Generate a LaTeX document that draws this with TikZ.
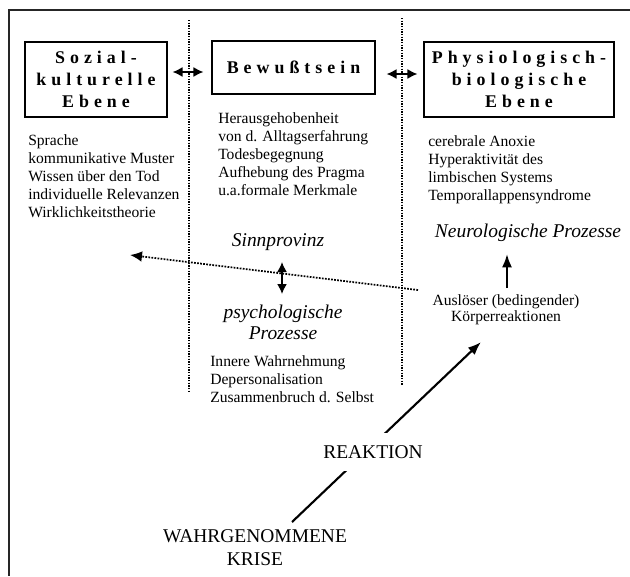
\documentclass[tikz,border=0pt]{standalone}
\usepackage{fontspec}
\setmainfont{Liberation Serif}
\newfontfamily\spacedfont[LetterSpace=28]{Liberation Serif}
\usetikzlibrary{arrows.meta,calc}
\begin{document}
\begin{tikzpicture}[x=0.75pt,y=-0.75pt,
  levelbox/.style={draw, line width=0.8pt, align=center, inner sep=0pt,
    font=\spacedfont\bfseries\fontsize{13.4}{16.3}\selectfont},
  body/.style={align=left, inner sep=0pt, anchor=base west,
    font=\fontsize{11.7}{13.5}\selectfont},
  ital/.style={inner sep=0pt, align=center, font=\itshape\fontsize{14.6}{15.8}\selectfont},
  caps/.style={inner sep=0pt, align=center, font=\fontsize{14.6}{17.2}\selectfont},
  frame/.style={line width=1.1pt, draw=black!85},
  sep/.style={densely dotted, line width=1pt},
  dblarrow/.style={{Latex[length=7.5pt,width=7.5pt]}-{Latex[length=7.5pt,width=7.5pt]}, line width=1.2pt},
  dotarrow/.style={densely dotted, line width=1.3pt, -{Latex[length=9pt,width=8pt]}},
  bigarrow/.style={line width=1.6pt, -{Latex[length=10pt,width=7.5pt]}}
]
\useasboundingbox (0,0) rectangle (630,576);

% frame
\coordinate (ftl) at (9,10);
\coordinate (ftr) at (630,10);
\coordinate (fbl) at (9,576);
\draw[frame] (ftr) -- (ftl) -- (fbl);

% dotted separators
\coordinate (s1t) at (189,20);
\coordinate (s1b) at (189,393);
\coordinate (s2t) at (402,18);
\coordinate (s2b) at (402,385);
\draw[sep] (s1t) -- (s1b);
\draw[sep] (s2t) -- (s2b);

% boxes
\node[levelbox, minimum width=106.5pt, minimum height=56.25pt] (soz) at (96,79.5) {Sozial-\\kulturelle\\Ebene};
\node[levelbox, minimum width=122.25pt, minimum height=39.75pt] (bew) at (293.5,67.5) {Bewußtsein};
\node[levelbox, minimum width=142.5pt, minimum height=56.25pt] (phy) at (519,79.5) {Physiologisch-\\biologische\\Ebene};

\coordinate (r1) at (0,72);
\coordinate (r2) at (0,74);
\draw[dblarrow, shorten <=3.75pt, shorten >=6pt] (soz.east |- r1) -- (bew.west |- r1);
\draw[dblarrow, shorten <=8.25pt, shorten >=4.5pt] (bew.east |- r2) -- (phy.west |- r2);

% column texts (base anchor = baseline of last line)
\node[body] (soztext) at (28,217) {Sprache\\kommunikative Muster\\Wissen über den Tod\\individuelle Relevanzen\\Wirklichkeitstheorie};
\node[body] (bewtext) at (218,195) {Herausgehobenheit\\von d. Alltagserfahrung\\Todesbegegnung\\Aufhebung des Pragma\\u.a.formale Merkmale};
\node[body] (phytext) at (428,200) {cerebrale Anoxie\\Hyperaktivität des\\limbischen Systems\\Temporallappensyndrome};

% middle
\node[ital] (sinn) at (278,242) {Sinnprovinz};
\node[ital, font=\itshape\fontsize{14.6}{15.75}\selectfont] (psy) at (283,322) {psychologische\\Prozesse};
\node[body] (psytext) at (210,402) {Innere Wahrnehmung\\Depersonalisation\\Zusammenbruch d. Selbst};

\coordinate (va) at (282,262);
\coordinate (vb) at (282,294);
\draw[dblarrow] (va) -- (vb);

\coordinate (dotR) at (418,290);
\coordinate (dotL) at (130,255);
\draw[dotarrow] (dotR) -- (dotL);

% right
\node[ital] (neuro) at (528,233) {Neurologische Prozesse};
\node[inner sep=0pt, align=center, font=\fontsize{11.7}{12}\selectfont] (ausl) at (506,310) {Auslöser (bedingender)\\Körperreaktionen};
\coordinate (upB) at (507,288);
\coordinate (upT) at (507,254);
\draw[bigarrow] (upB) -- (upT);

% bottom
\coordinate (crT) at (292,522);
\coordinate (auB) at (481,342);
\draw[bigarrow] (crT) -- (auB);
\node[caps, fill=white, inner xsep=2pt, inner ysep=9pt] (reak) at (373,452) {REAKTION};
\node[caps] (krise) at (255,548) {WAHRGENOMMENE\\KRISE};
\end{tikzpicture}
\end{document}
